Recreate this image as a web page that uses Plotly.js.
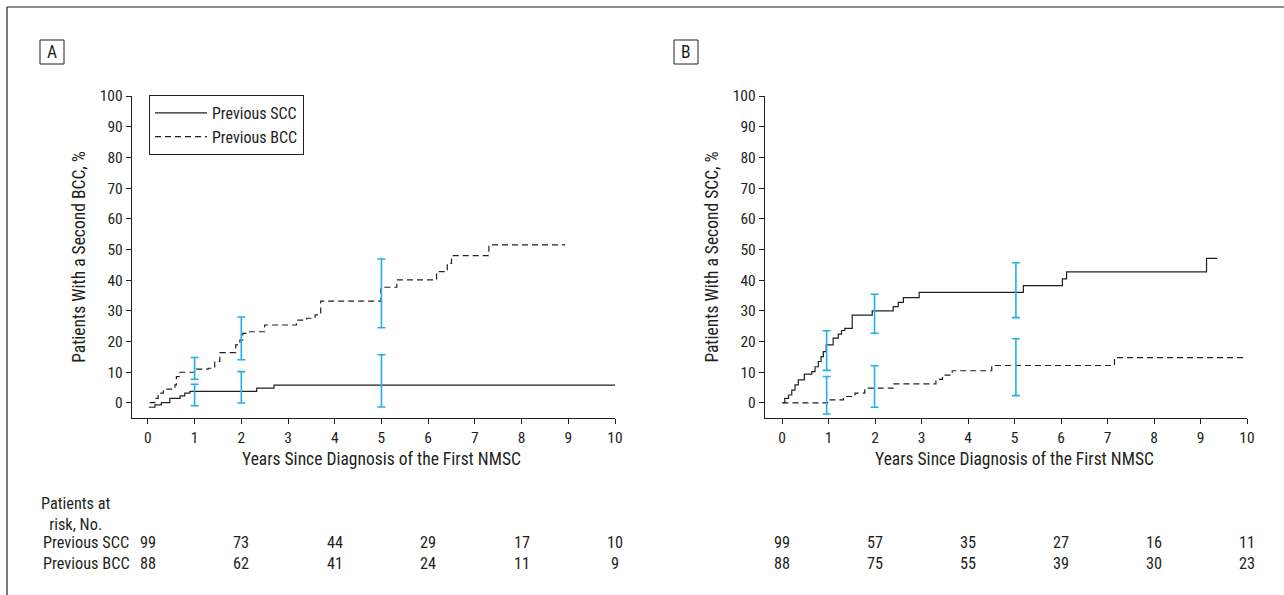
<!DOCTYPE html>
<html>
<head>
<meta charset="utf-8">
<script src="https://cdn.plot.ly/plotly-3.0.1.min.js"></script>
<style>html,body{margin:0;padding:0;background:#fff;}#chart{width:1284px;height:595px;}</style>
</head>
<body>
<div id="chart"></div>
<script>
// ---- Data ----
// Panel A: cumulative % with a second BCC
const aSccX = [0.02,0.15,0.29,0.47,0.69,0.79,0.90,2.33,2.70,10.0];
const aSccY = [-1.4,-0.6,0.1,1.5,2.3,3.2,3.8,4.8,5.8,5.8];
const aBccX = [0.04,0.15,0.22,0.33,0.58,0.61,0.69,1.04,1.29,1.43,1.54,1.88,1.97,2.03,2.18,2.50,3.18,3.40,3.58,3.70,4.99,5.33,6.18,6.41,6.50,7.30,8.93];
const aBccY = [0.1,1.5,3.2,4.5,5.9,8.6,10.0,11.0,11.3,13.5,16.4,18.9,20.5,22.7,23.2,25.4,27.0,27.6,28.7,33.2,37.7,40.1,42.8,45.5,48.0,51.5,51.5];
// Panel B: cumulative % with a second SCC
const bSccX = [0.01,0.06,0.14,0.21,0.28,0.35,0.48,0.64,0.71,0.78,0.84,0.89,0.95,1.10,1.21,1.28,1.35,1.51,1.94,2.39,2.50,2.61,2.95,5.19,6.03,6.12,9.13,9.36];
const bSccY = [0.1,1.5,2.6,4.2,5.9,7.5,9.4,10.2,11.8,13.5,15.1,16.7,18.9,21.1,22.4,23.6,24.3,28.6,30.0,31.4,32.8,34.3,36.0,38.2,40.4,42.7,47.1,47.1];
const bBccX = [0.01,0.98,1.32,1.57,1.78,2.41,3.31,3.45,3.66,4.51,7.15,10.0];
const bBccY = [0.0,1.0,2.1,3.2,4.8,6.2,7.7,9.1,10.5,12.2,14.8,14.8];
// 95% CI bars
const aCiX = [1,2,5];
const aSccLo = [-0.9,0.0,-1.3];
const aSccHi = [6.1,10.2,15.7];
const aBccLo = [7.7,14.1,24.5];
const aBccHi = [14.8,28.0,46.9];
const bCiX = [0.96,1.99,5.03];
const bSccLo = [10.6,22.7,27.8];
const bSccHi = [23.5,35.4,45.7];
const bBccLo = [-3.6,-1.4,2.4];
const bBccHi = [8.6,12.1,20.9];
// Patients at risk
const riskTimes = [0,2,4,6,8,10];
const aRiskScc = [99,73,44,29,17,10];
const aRiskBcc = [88,62,41,24,11,9];
const bRiskScc = [99,57,35,27,16,11];
const bRiskBcc = [88,75,55,39,30,23];
const xTicks = [0,1,2,3,4,5,6,7,8,9,10];
const yTicks = [0,10,20,30,40,50,60,70,80,90,100];
const xTitle = 'Years Since Diagnosis of the First NMSC';

// ---- Styles ----
const FONT = "'Liberation Sans Narrow','Arial Narrow','Roboto Condensed','DejaVu Sans Condensed',sans-serif";
const INK = '#231f20';
const CI = '#1fb1e6';
const W = 1284, H = 595;
const px = v => v / W;
const py = v => 1 - v / H;

function curve(x, y, dash, xa, ya, name, show) {
  return {x: x, y: y, type: 'scatter', mode: 'lines', name: name, showlegend: show,
    xaxis: xa, yaxis: ya, line: {shape: 'hv', color: INK, width: 1.2, dash: dash},
    hoverinfo: 'skip'};
}
function ci(x, lo, hi, xa, ya) {
  return {x: x, y: lo, type: 'scatter', mode: 'markers', showlegend: false,
    xaxis: xa, yaxis: ya, marker: {size: 1, color: 'rgba(0,0,0,0)'},
    error_y: {type: 'data', symmetric: false, array: hi.map((h, i) => h - lo[i]),
      arrayminus: lo.map(() => 0), color: CI, thickness: 1.6, width: 4},
    hoverinfo: 'skip'};
}

const traces = [
  curve(aSccX, aSccY, 'solid', 'x', 'y', 'Previous SCC', true),
  curve(aBccX, aBccY, '6px,4px', 'x', 'y', 'Previous BCC', true),
  curve(bSccX, bSccY, 'solid', 'x2', 'y2', 'Previous SCC', false),
  curve(bBccX, bBccY, '6px,4px', 'x2', 'y2', 'Previous BCC', false),
  ci(aCiX, aSccLo, aSccHi, 'x', 'y'),
  ci(aCiX, aBccLo, aBccHi, 'x', 'y'),
  ci(bCiX, bSccLo, bSccHi, 'x2', 'y2'),
  ci(bCiX, bBccLo, bBccHi, 'x2', 'y2')
];

function xAxis(domain, range, anchor) {
  return {domain: domain, range: range, anchor: anchor, tickmode: 'array', tickvals: xTicks,
    ticks: 'outside', ticklen: 5, tickwidth: 1, tickcolor: INK, showline: true, linecolor: INK,
    linewidth: 1.2, showgrid: false, zeroline: false, fixedrange: true,
    tickfont: {family: FONT, size: 15.5, color: INK}};
}
function yAxis(domain, title, anchor) {
  return {domain: domain, range: [-4.9, 100], anchor: anchor, tickmode: 'array', tickvals: yTicks,
    ticks: 'outside', ticklen: 5, tickwidth: 1, tickcolor: INK, showline: true, linecolor: INK,
    linewidth: 1.2, showgrid: false, zeroline: false, fixedrange: true,
    tickfont: {family: FONT, size: 15.5, color: INK},
    title: {text: title, font: {family: FONT, size: 17.5, color: INK}, standoff: 9}};
}

const yDom = [py(418), py(96)];
const annotations = [];
const shapes = [];
// frame
shapes.push({type: 'line', xref: 'paper', yref: 'paper', x0: px(7), x1: px(7), y0: py(7), y1: 0, line: {color: INK, width: 1.2}});
shapes.push({type: 'line', xref: 'paper', yref: 'paper', x0: px(7), x1: 1, y0: py(7), y1: py(7), line: {color: INK, width: 1.2}});
// panel labels
[['A', 40], ['B', 674]].forEach(([t, left]) => {
  shapes.push({type: 'rect', xref: 'paper', yref: 'paper', x0: px(left), x1: px(left + 24), y0: py(64), y1: py(40), line: {color: INK, width: 1}});
  annotations.push({text: t, xref: 'paper', yref: 'paper', x: px(left + 12), y: py(52), showarrow: false,
    xanchor: 'center', yanchor: 'middle', font: {family: FONT, size: 17.5, color: INK}});
});
// x-axis titles, centred on the 0-10 year span
['x', 'x2'].forEach(xr => annotations.push({text: xTitle, xref: xr, yref: 'paper', x: 5, y: py(459),
  showarrow: false, xanchor: 'center', yanchor: 'middle', font: {family: FONT, size: 17.5, color: INK}}));
// risk table
const RF = 16.3;
annotations.push({text: 'Patients at<br>risk, No.', xref: 'paper', yref: 'paper', x: px(39), y: py(514),
  showarrow: false, xanchor: 'left', yanchor: 'middle', align: 'center',
  font: {family: FONT, size: RF, color: INK}});
const lab = (t, x, y) => annotations.push({text: t, xref: 'paper', yref: 'paper', x: px(x), y: py(y),
  showarrow: false, xanchor: 'left', yanchor: 'middle', font: {family: FONT, size: RF, color: INK}});
lab('Previous SCC', 41, 542);
lab('Previous BCC', 41, 563);
function riskRow(vals, xref, y) {
  vals.forEach((v, i) => annotations.push({text: String(v), xref: xref, yref: 'paper', x: riskTimes[i], y: py(y),
    showarrow: false, xanchor: 'center', yanchor: 'middle', font: {family: FONT, size: RF, color: INK}}));
}
riskRow(aRiskScc, 'x', 542);
riskRow(aRiskBcc, 'x', 563);
riskRow(bRiskScc, 'x2', 542);
riskRow(bRiskBcc, 'x2', 563);

const layout = {
  width: W, height: H, margin: {l: 0, r: 0, t: 0, b: 0}, paper_bgcolor: '#fff', plot_bgcolor: '#fff',
  font: {family: FONT, size: 15, color: INK},
  xaxis: xAxis([px(132), px(615)], [-0.34, 10], 'y'),
  yaxis: yAxis(yDom, 'Patients With a Second BCC, %', 'x'),
  xaxis2: xAxis([px(765), px(1247)], [-0.366, 10], 'y2'),
  yaxis2: yAxis(yDom, 'Patients With a Second SCC, %', 'x2'),
  showlegend: true,
  legend: {x: px(149), y: py(95), xanchor: 'left', yanchor: 'top', bordercolor: INK, borderwidth: 1,
    bgcolor: '#fff', font: {family: FONT, size: 16, color: INK}, tracegroupgap: 0, itemwidth: 52},
  shapes: shapes, annotations: annotations
};
Plotly.newPlot('chart', traces, layout, {staticPlot: true, displayModeBar: false});
</script>
</body>
</html>
